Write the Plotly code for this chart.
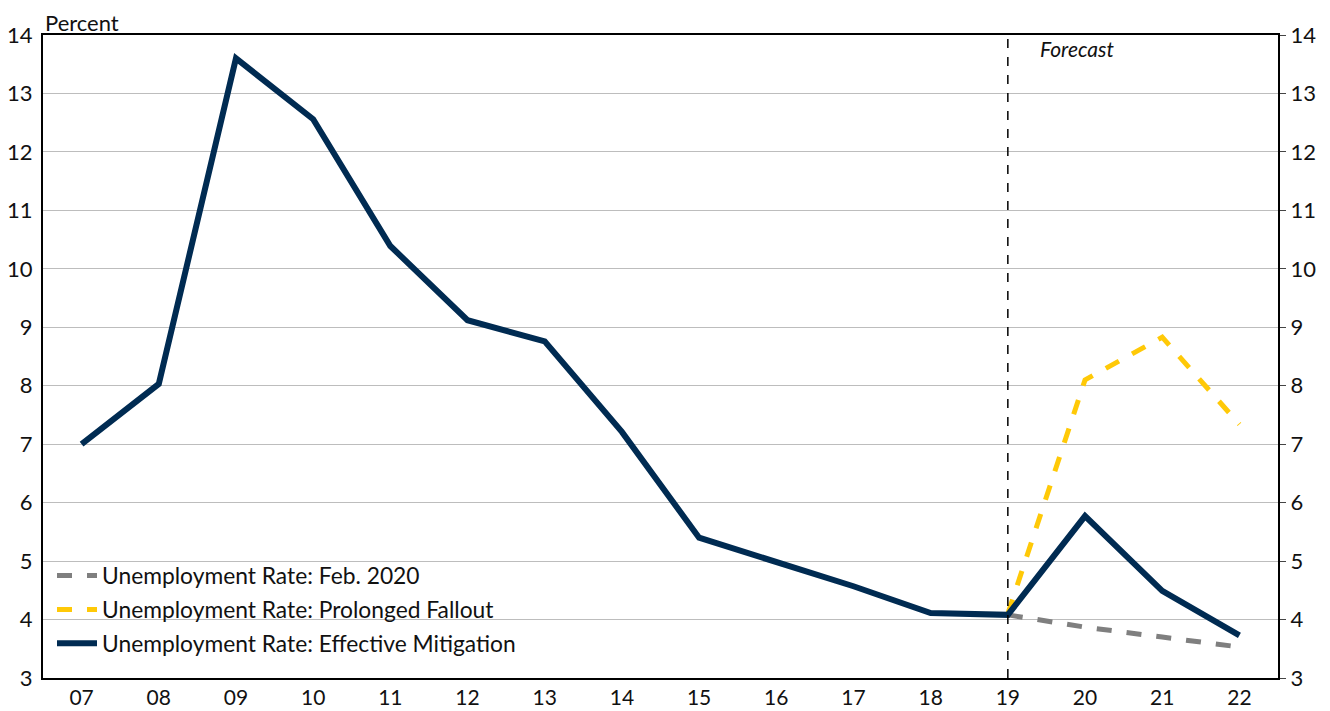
import plotly.graph_objects as go

years = ["07", "08", "09", "10", "11", "12", "13", "14", "15", "16", "17", "18", "19", "20", "21", "22"]
effective = [7.0, 8.03, 13.6, 12.56, 10.39, 9.12, 8.76, 7.21, 5.4, 4.98, 4.57, 4.11, 4.08, 5.77, 4.49, 3.73]
forecast_years = ["19", "20", "21", "22"]
prolonged = [4.1, 8.1, 8.83, 7.34]
feb2020 = [4.08, 3.87, 3.70, 3.53]
y_ticks = list(range(3, 15))

NAVY = "#002b52"
GOLD = "#ffc907"
GREY = "#7f7f7f"
FONT = "Lato, Open Sans, sans-serif"

# category positions as indices (keeps "19"-style labels from being read as numbers)
pos = {y: i for i, y in enumerate(years)}
fc_x = [pos[y] for y in forecast_years]

fig = go.Figure()
fig.add_trace(go.Scatter(
    x=fc_x, y=feb2020, mode="lines", name="Unemployment Rate: Feb. 2020",
    line=dict(color=GREY, width=5, dash="dash"), legend="legend",
))
fig.add_trace(go.Scatter(
    x=fc_x, y=prolonged, mode="lines", name="Unemployment Rate: Prolonged Fallout",
    line=dict(color=GOLD, width=5, dash="dash"), legend="legend2",
))
fig.add_trace(go.Scatter(
    x=list(range(len(years))), y=effective, mode="lines",
    name="Unemployment Rate: Effective Mitigation",
    line=dict(color=NAVY, width=6), legend="legend3",
))
# carries the right-hand axis
fig.add_trace(go.Scatter(
    x=list(range(len(years))), y=effective, yaxis="y2", mode="lines", showlegend=False,
    line=dict(color="rgba(0,0,0,0)"), hoverinfo="skip",
))

fig.add_shape(type="line", xref="x", yref="paper", x0=pos["19"], x1=pos["19"], y0=0, y1=1,
              line=dict(color="black", width=1.5, dash="dash"))
fig.add_annotation(x=pos["20"] - 0.1, y=14, xref="x", yref="y", text="<i>Forecast</i>",
                   showarrow=False, xanchor="center", yanchor="top", yshift=1,
                   font=dict(size=21, color="#111"))
fig.add_annotation(x=0, y=1, xref="paper", yref="paper", text="Percent",
                   showarrow=False, xanchor="left", yanchor="bottom", xshift=0, yshift=-3,
                   font=dict(size=22, color="#111"))

axis_y = dict(range=[3, 14], tickvals=y_ticks, showgrid=True, gridcolor="#bdbdbd",
              gridwidth=1, showline=True, linecolor="black", linewidth=2,
              zeroline=False, automargin=False, tickfont=dict(size=22, color="#111"))

legend_style = dict(xanchor="left", yanchor="middle", bgcolor="rgba(0,0,0,0)",
                    font=dict(size=22.8), itemwidth=40)
leg_x = 9 / 1235

fig.update_layout(
    # page body keeps its 8px default margin, so the figure is sized to fit the window
    width=1322, height=703,
    paper_bgcolor="white", plot_bgcolor="white",
    font=dict(family=FONT, size=22, color="#111"),
    margin=dict(l=35, r=52, t=27, b=33),
    showlegend=True,
    legend=dict(x=leg_x, y=(4.75 - 3) / 11, **legend_style),
    legend2=dict(x=leg_x, y=(4.17 - 3) / 11, **legend_style),
    legend3=dict(x=leg_x, y=(3.59 - 3) / 11, **legend_style),
    xaxis=dict(range=[-0.5, len(years) - 0.5], tickvals=list(range(len(years))),
               ticktext=years, showline=True, linecolor="black", linewidth=2,
               mirror=True, ticks="", showgrid=False, zeroline=False, automargin=False,
               ticklabelstandoff=0, tickfont=dict(size=21, color="#111")),
    yaxis=dict(**axis_y, ticks="", ticklabelstandoff=4),
    yaxis2=dict(**axis_y, overlaying="y", side="right", ticks="outside",
                ticklen=6, tickcolor="#444"),
)

fig.write_html("out.html")
